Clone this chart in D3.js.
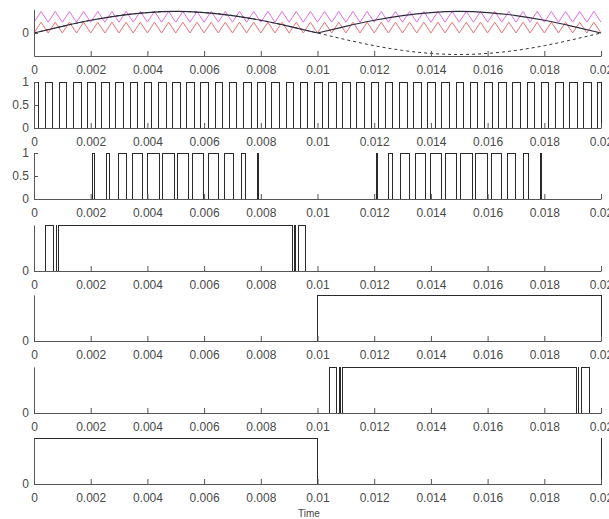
<!DOCTYPE html>
<html>
<head>
<meta charset="utf-8">
<script src="https://cdn.jsdelivr.net/npm/d3@7"></script>
<style>
  body { margin: 0; background: #fff; }
  svg { display: block; }
</style>
</head>
<body>
<svg id="chart" width="609" height="519"></svg>
<script>
// ---- data ----
const xTicks = [0, 0.002, 0.004, 0.006, 0.008, 0.01, 0.012, 0.014, 0.016, 0.018, 0.02];
const xTickLabels = ["0", "0.002", "0.004", "0.006", "0.008", "0.01", "0.012", "0.014", "0.016", "0.018", "0.02"];

// reference sine and its rectified copy, sampled every 1 ms
const sineStep = 0.001;
const sineValues = [0, 0.31, 0.59, 0.81, 0.95, 1, 0.95, 0.81, 0.59, 0.31, 0,
  -0.31, -0.59, -0.81, -0.95, -1, -0.95, -0.81, -0.59, -0.31, 0];
const rectifiedValues = [0, 0.31, 0.59, 0.81, 0.95, 1, 0.95, 0.81, 0.59, 0.31, 0,
  0.31, 0.59, 0.81, 0.95, 1, 0.95, 0.81, 0.59, 0.31, 0];

// triangle carriers, vertex every 0.25 ms
const carrierStep = 0.00025;
const carrierUpper = [
  0.5, 1, 0.5, 1, 0.5, 1, 0.5, 1, 0.5, 1,
  0.5, 1, 0.5, 1, 0.5, 1, 0.5, 1, 0.5, 1,
  0.5, 1, 0.5, 1, 0.5, 1, 0.5, 1, 0.5, 1,
  0.5, 1, 0.5, 1, 0.5, 1, 0.5, 1, 0.5, 1,
  0.5, 1, 0.5, 1, 0.5, 1, 0.5, 1, 0.5, 1,
  0.5, 1, 0.5, 1, 0.5, 1, 0.5, 1, 0.5, 1,
  0.5, 1, 0.5, 1, 0.5, 1, 0.5, 1, 0.5, 1,
  0.5, 1, 0.5, 1, 0.5, 1, 0.5, 1, 0.5, 1,
  0.5];
const carrierLower = [
  0, 0.5, 0, 0.5, 0, 0.5, 0, 0.5, 0, 0.5,
  0, 0.5, 0, 0.5, 0, 0.5, 0, 0.5, 0, 0.5,
  0, 0.5, 0, 0.5, 0, 0.5, 0, 0.5, 0, 0.5,
  0, 0.5, 0, 0.5, 0, 0.5, 0, 0.5, 0, 0.5,
  0, 0.5, 0, 0.5, 0, 0.5, 0, 0.5, 0, 0.5,
  0, 0.5, 0, 0.5, 0, 0.5, 0, 0.5, 0, 0.5,
  0, 0.5, 0, 0.5, 0, 0.5, 0, 0.5, 0, 0.5,
  0, 0.5, 0, 0.5, 0, 0.5, 0, 0.5, 0, 0.5,
  0];

// gate signals as [on, off] times
const gate1 = [
  [0, 0.00016], [0.00039, 0.00066], [0.00089, 0.00116], [0.00139, 0.00166], [0.00189, 0.00216],
  [0.00239, 0.00266], [0.00289, 0.00316], [0.00339, 0.00366], [0.00389, 0.00416], [0.00439, 0.00466],
  [0.00489, 0.00516], [0.00539, 0.00566], [0.00589, 0.00616], [0.00639, 0.00666], [0.00689, 0.00716],
  [0.00739, 0.00766], [0.00789, 0.00816], [0.00839, 0.00866], [0.00889, 0.00916], [0.00939, 0.00966],
  [0.00989, 0.01016], [0.01039, 0.01066], [0.01089, 0.01116], [0.01139, 0.01166], [0.01189, 0.01216],
  [0.01239, 0.01266], [0.01289, 0.01316], [0.01339, 0.01366], [0.01389, 0.01416], [0.01439, 0.01466],
  [0.01489, 0.01516], [0.01539, 0.01566], [0.01589, 0.01616], [0.01639, 0.01666], [0.01689, 0.01716],
  [0.01739, 0.01766], [0.01789, 0.01816], [0.01839, 0.01866], [0.01889, 0.01916], [0.01939, 0.01966],
  [0.01989, 0.02]
];
const gate2 = [
  [0.00208, 0.00213], [0.00254, 0.00268], [0.00297, 0.00327], [0.00348, 0.00383], [0.00401, 0.00441],
  [0.00454, 0.00494], [0.00506, 0.00546], [0.00559, 0.00599], [0.00617, 0.00652], [0.00673, 0.00703],
  [0.00732, 0.00746], [0.00787, 0.00792],
  [0.01208, 0.01213], [0.01252, 0.01266], [0.01294, 0.01324], [0.01345, 0.01380], [0.01399, 0.01438],
  [0.01452, 0.01492], [0.01504, 0.01546], [0.01559, 0.01600], [0.01615, 0.01650], [0.01669, 0.01699],
  [0.01728, 0.01744], [0.01786, 0.01791]
];
const gate3 = [[0.00041, 0.00068], [0.00078, 0.0008], [0.00087, 0.00913], [0.0092, 0.00922], [0.00932, 0.00959]];
const gate4 = [[0.01, 0.02]];
const gate5 = [[0.01041, 0.01068], [0.01078, 0.0108], [0.01087, 0.01913], [0.0192, 0.01922], [0.01932, 0.01959]];
const gate6 = [[0, 0.01], [0.02, 0.02]];

// ---- drawing ----
const fontFamily = "'Liberation Sans', Arial, sans-serif";
const svg = d3.select("#chart");
const x = d3.scaleLinear().domain([0, 0.02]).range([34, 601]);

const panelBottom = [56, 128, 199, 271, 341, 413, 484];
const panelHeight = 46;

function styleAxis(g) {
  g.attr("font-size", 12).attr("font-family", fontFamily);
  g.select(".domain").attr("stroke", "#555");
  g.selectAll(".tick line").attr("stroke", "#555");
  g.selectAll(".tick text").attr("fill", "#4a4a4a");
}

function drawAxes(bottom, y, yTicks, yLabels) {
  svg.append("g")
      .attr("transform", `translate(0,${bottom})`)
      .call(d3.axisBottom(x)
        .tickValues(xTicks)
        .tickFormat((d, i) => xTickLabels[i])
        .tickSizeInner(-5)
        .tickSizeOuter(0)
        .tickPadding(9.5))
      .call(styleAxis);

  svg.append("g")
      .attr("transform", `translate(${x(0)},0)`)
      .call(d3.axisLeft(y)
        .tickValues(yTicks)
        .tickFormat((d, i) => yLabels[i])
        .tickSizeInner(-4)
        .tickSizeOuter(0)
        .tickPadding(5))
      .call(styleAxis);
}

// panel 1: carriers and reference
const y1 = d3.scaleLinear().domain([-1.07, 1.1]).range([panelBottom[0], 9.3]);

const carrierLine = d3.line()
    .x((d, i) => x(i * carrierStep))
    .y(d => y1(d));

svg.append("path")
    .attr("d", carrierLine(carrierUpper))
    .attr("fill", "none")
    .attr("stroke", "#e36ee3")
    .attr("stroke-width", 1);

svg.append("path")
    .attr("d", carrierLine(carrierLower))
    .attr("fill", "none")
    .attr("stroke", "#e87272")
    .attr("stroke-width", 1);

const sineLine = d3.line()
    .curve(d3.curveNatural)
    .x(d => x(d.t))
    .y(d => y1(d.v));

const sinePts = sineValues.map((v, i) => ({t: i * sineStep, v}));
const rectPts = rectifiedValues.map((v, i) => ({t: i * sineStep, v}));

svg.append("path")
    .attr("d", sineLine(sinePts))
    .attr("fill", "none")
    .attr("stroke", "#333")
    .attr("stroke-width", 1)
    .attr("stroke-dasharray", "3,3");

[rectPts.slice(0, 11), rectPts.slice(10)].forEach(seg => {
  svg.append("path")
      .attr("d", sineLine(seg))
      .attr("fill", "none")
      .attr("stroke", "#2e2a3e")
      .attr("stroke-width", 1.2);
});

drawAxes(panelBottom[0], y1, [0], ["0"]);

// panels 2-7: gate signals
const gates = [gate1, gate2, gate3, gate4, gate5, gate6];

const stepLine = d3.line();

gates.forEach((pulses, k) => {
  const bottom = panelBottom[k + 1];
  const y = d3.scaleLinear().domain([0, 1]).range([bottom, bottom - panelHeight]);

  const pts = [[0, 0]];
  pulses.forEach(([on, off]) => {
    pts.push([on, 0], [on, 1], [off, 1], [off, 0]);
  });
  pts.push([0.02, 0]);

  svg.append("path")
      .attr("d", stepLine(pts.map(p => [x(p[0]), y(p[1])])))
      .attr("fill", "none")
      .attr("stroke", "#2a2a2a")
      .attr("stroke-width", 1)
      .attr("shape-rendering", "crispEdges");

  if (k < 2) drawAxes(bottom, y, [0, 0.5, 1], ["0", "0.5", "1"]);
  else drawAxes(bottom, y, [0], ["0"]);
});

svg.append("text")
    .attr("x", 309)
    .attr("y", 517)
    .attr("text-anchor", "middle")
    .attr("font-family", fontFamily)
    .attr("font-size", 10)
    .attr("fill", "#444")
    .text("Time");
</script>
</body>
</html>
